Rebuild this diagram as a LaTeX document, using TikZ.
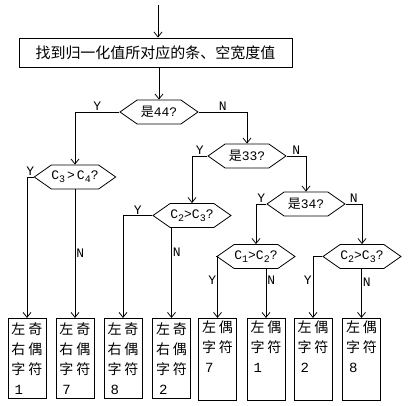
\documentclass[tikz,border=0pt]{standalone}
\usepackage{fontspec}
\setmainfont{Liberation Mono}
\newfontfamily\cjk{Noto Sans CJK SC}
\usetikzlibrary{arrows.meta,shapes.symbols}

% letter with a lowered index
\newcommand{\csub}[2]{#1\raisebox{-0.45ex}{\fontsize{10}{10}\selectfont #2}}

\tikzset{
  flow/.style={line width=0.8pt, -{Straight Barb[length=5pt,width=8pt]}},
  decision/.style={draw, line width=0.8pt, signal, signal to=west and east,
    signal pointer angle=70, minimum width=78pt, minimum height=24pt,
    inner sep=0pt, font=\fontsize{13}{14}\selectfont},
  leaf/.style={draw, line width=0.8pt, minimum width=38pt, minimum height=80pt,
    inner sep=2pt, anchor=north, align=left, font=\cjk\fontsize{14}{20}\selectfont},
  yn/.style={font=\fontsize{13}{13}\selectfont, inner sep=1pt}
}

\begin{document}
\begin{tikzpicture}[x=1pt, y=-1pt]
\useasboundingbox (0,0) rectangle (408,406);

% Start and first step
\coordinate (start) at (158,5);
\node[draw, line width=0.8pt, minimum width=273pt, minimum height=29pt, inner sep=0pt,
  font=\cjk\fontsize{15}{15}\selectfont] (find) at (155.5,52.5) {找到归一化值所对应的条、空宽度值};
\draw[flow] (start) -- (start |- find.north);

% Decisions
\node[decision] (d44) at (159,112) {{\cjk 是}44?};
\node[decision] (d33) at (247,156) {{\cjk 是}33?};
\node[decision] (d34) at (306,204) {{\cjk 是}34?};
\node[decision] (c34) at (75,177) {\csub{C}{3}\hspace{2pt}>\hspace{2pt}\csub{C}{4}?};
\node[decision] (c23a) at (192,215.5) {\csub{C}{2}>\csub{C}{3}?};
\node[decision] (c12) at (256,256.5) {\csub{C}{1}>\csub{C}{2}?};
\node[decision] (c23b) at (362,256.5) {\csub{C}{2}>\csub{C}{3}?};

% Results
\node[leaf] (b1) at (27,318) {左\hspace{3pt}奇\\右\hspace{3pt}偶\\字\hspace{3pt}符\\\hspace{3pt}{\rmfamily 1}};
\node[leaf] (b2) at (75,318) {左\hspace{3pt}奇\\右\hspace{3pt}偶\\字\hspace{3pt}符\\\hspace{3pt}{\rmfamily 7}};
\node[leaf] (b3) at (123,318) {左\hspace{3pt}奇\\右\hspace{3pt}偶\\字\hspace{3pt}符\\\hspace{3pt}{\rmfamily 8}};
\node[leaf] (b4) at (171.5,318) {左\hspace{3pt}奇\\右\hspace{3pt}偶\\字\hspace{3pt}符\\\hspace{3pt}{\rmfamily 2}};
\node[leaf] (b5) at (217.5,318) {左\hspace{3pt}偶\\字\hspace{3pt}符\\\hspace{3pt}{\rmfamily 7}\\\strut};
\node[leaf] (b6) at (266,318) {左\hspace{3pt}偶\\字\hspace{3pt}符\\\hspace{3pt}{\rmfamily 1}\\\strut};
\node[leaf] (b7) at (313,318) {左\hspace{3pt}偶\\字\hspace{3pt}符\\\hspace{3pt}{\rmfamily 2}\\\strut};
\node[leaf] (b8) at (361.5,318) {左\hspace{3pt}偶\\字\hspace{3pt}符\\\hspace{3pt}{\rmfamily 8}\\\strut};

% Connectors
\draw[flow] (find.south -| d44.north) -- (d44.north);
\draw[flow] (d44.west) -| node[yn, above, pos=0.25] {Y} (c34.north);
\draw[flow] (d44.east) -| node[yn, above, pos=0.25] {N} (d33.north);
\draw[flow] (d33.west) -| node[yn, above, pos=0.25] {Y} (c23a.north);
\draw[flow] (d33.east) -| node[yn, above, pos=0.25] {N} (d34.north);
\draw[flow] (d34.west) -| node[yn, above, pos=0.25] {Y} (c12.north);
\draw[flow] (d34.east) -| node[yn, above, pos=0.25] {N} (c23b.north);

\draw[flow] (c34.west) -| node[yn, above, pos=0.25] {Y} (b1.north);
\draw[flow] (c34.south) -- node[yn, right, pos=0.5] {N} (b2.north);
\draw[flow] (c23a.west) -| node[yn, above, pos=0.25] {Y} (b3.north);
\draw[flow] (c23a.south -| b4.north) -- node[yn, right, pos=0.27] {N} (b4.north);
\draw[flow] (c12.west) -| node[yn, left, pos=0.69] {Y} (b5.north);
\draw[flow] (c12.south -| b6.north) -- node[yn, right, pos=0.24] {N} (b6.north);
\draw[flow] (c23b.west) -| node[yn, left, pos=0.69] {Y} (b7.north);
\draw[flow] (c23b.south -| b8.north) -- node[yn, right, pos=0.27] {N} (b8.north);

\end{tikzpicture}
\end{document}
